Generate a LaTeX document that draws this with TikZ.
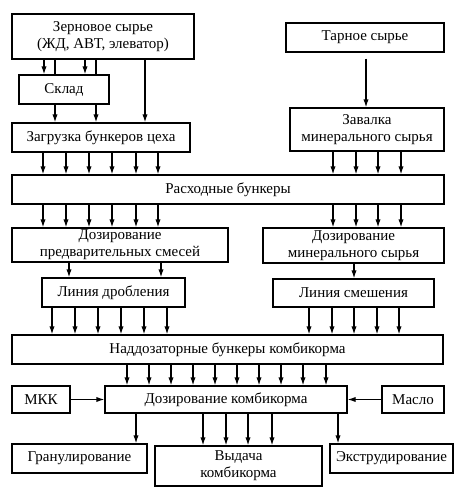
\documentclass[tikz,border=0pt]{standalone}
\usepackage{fontspec}
\setmainfont{Liberation Serif}
\usepackage{tikz}
\usetikzlibrary{arrows.meta}
\tikzset{
    box/.style={draw, line width=1.2pt, inner sep=0pt, align=center, font=\fontsize{15}{17}\selectfont},
    arr/.style={line width=1.2pt, -{Latex[length=8pt,width=5.2pt]}},
    ln/.style={line width=1.2pt}
}

\begin{document}
\begin{tikzpicture}[x=1pt,y=-1pt]
\useasboundingbox (0,0) rectangle (465,496);
% boxes: name / centre / width / height / text
\foreach \p/\x/\y/\w/\h/\t in {
    zerno/103/36.5/182/45/{Зерновое сырье\\(ЖД, АВТ, элеватор)},
    sklad/64/89.5/90/29/{Склад},
    zagr/101/137.5/178/29/{Загрузка бункеров цеха},
    tara/365/37.5/158/29/{Тарное сырье},
    zaval/367/129.5/154/43/{Завалка\\минерального сырья},
    rash/228/189.5/432/29/{Расходные бункеры},
    dozpr/120/245/216/34/{Дозирование\\предварительных смесей},
    drob/113.5/292.5/143/29/{Линия дробления},
    dozmin/353.5/245.5/181/35/{Дозирование\\минерального сырья},
    smesh/353.5/293/161/28/{Линия смешения},
    nadd/227.5/349.5/431/29/{Наддозаторные бункеры комбикорма},
    dozk/226/399.5/242/27/{Дозирование комбикорма},
    mkk/41/399.5/58/27/{МКК},
    maslo/413/399.5/62/27/{Масло},
    gran/79.5/458.5/135/29/{Гранулирование},
    vyd/238.5/466/167/40/{Выдача\\комбикорма},
    extr/391.5/458.5/123/29/{Экструдирование}}{
    \node[box, minimum width=\w pt, minimum height=\h pt] (\p) at (\x,\y) {\t};
}
% grain and storage
\foreach \x in {44,85}
    \draw[arr] (zerno.south -| \x,0) -- (sklad.north -| \x,0);
\foreach \x in {55,96}{
    \draw[ln] (zerno.south -| \x,0) -- (sklad.north -| \x,0);
    \draw[arr] (sklad.south -| \x,0) -- (zagr.north -| \x,0);
}
\draw[arr] (zerno.south -| 145,0) -- (zagr.north -| 145,0);
\draw[arr, shorten <=6pt] (tara.south -| 366,0) -- (zaval.north -| 366,0);
% into and out of the bins
\foreach \x in {43,66,89,112,136,158}{
    \draw[arr] (zagr.south -| \x,0) -- (rash.north -| \x,0);
    \draw[arr] (rash.south -| \x,0) -- (dozpr.north -| \x,0);
}
\foreach \x in {333,356,378,401}{
    \draw[arr] (zaval.south -| \x,0) -- (rash.north -| \x,0);
    \draw[arr] (rash.south -| \x,0) -- (dozmin.north -| \x,0);
}
\foreach \x in {69,161}
    \draw[arr] (dozpr.south -| \x,0) -- (drob.north -| \x,0);
\draw[arr] (dozmin.south -| 354,0) -- (smesh.north -| 354,0);
\foreach \x in {52,75,98,121,144,167}
    \draw[arr] (drob.south -| \x,0) -- (nadd.north -| \x,0);
\foreach \x in {309,332,354,377,399}
    \draw[arr] (smesh.south -| \x,0) -- (nadd.north -| \x,0);
\foreach \x in {127,149,171,193,215,237,259,281,303,326}
    \draw[arr] (nadd.south -| \x,0) -- (dozk.north -| \x,0);
% dosing of the feed
\draw[arr] (mkk) -- (dozk);
\draw[arr] (maslo) -- (dozk);
\draw[arr] (dozk.south -| 136,0) -- (gran.north -| 136,0);
\foreach \x in {203,226,248,272}
    \draw[arr] (dozk.south -| \x,0) -- (vyd.north -| \x,0);
\draw[arr] (dozk.south -| 338,0) -- (extr.north -| 338,0);
\end{tikzpicture}
\end{document}
